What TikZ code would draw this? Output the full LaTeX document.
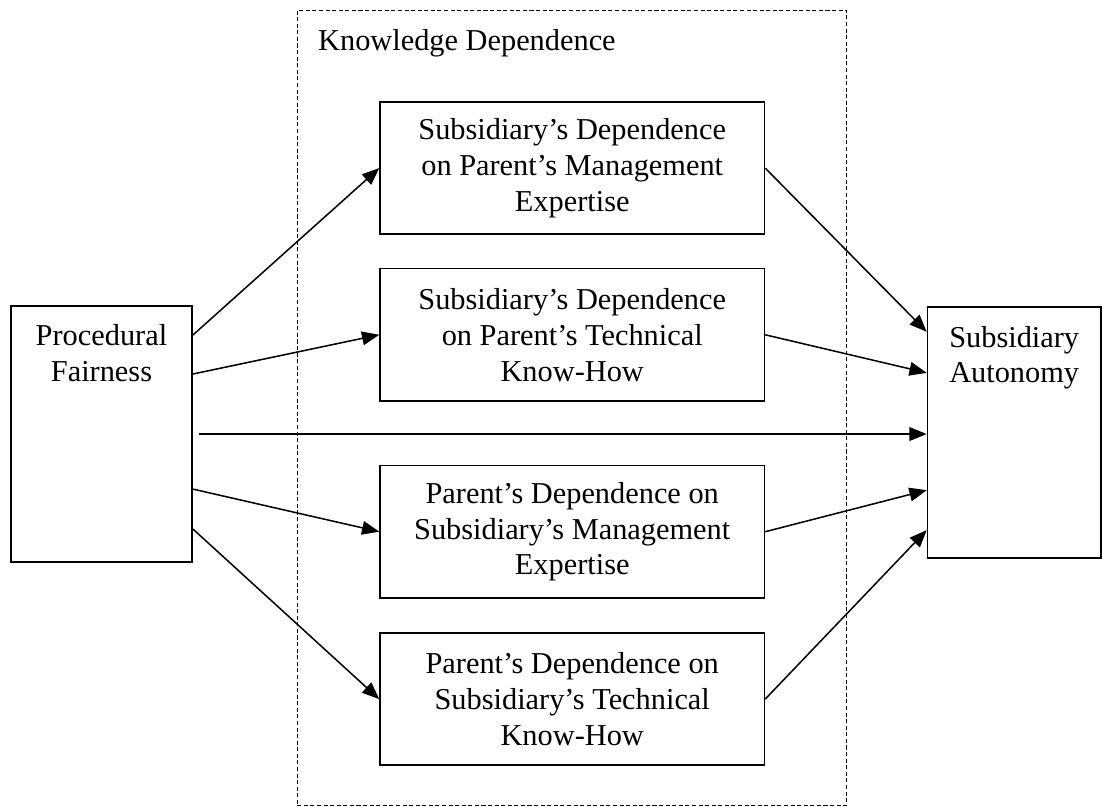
\documentclass[tikz,border=0pt]{standalone}
\usepackage{fontspec}
\setmainfont{Liberation Serif}
\usetikzlibrary{arrows.meta, positioning}

\begin{document}
\begin{tikzpicture}[
    every node/.style={font=\fontsize{12pt}{14.2pt}\selectfont},
    box/.style={draw, line width=0.6pt, rectangle, align=center, minimum width=5.34cm, minimum height=1.835cm, inner sep=0pt},
    side/.style={draw, line width=0.6pt, rectangle},
    group/.style={draw, line width=0.4pt, dash pattern=on 1.6pt off 1pt, rectangle, minimum width=7.63cm, minimum height=11.05cm},
    link/.style={draw, line width=0.6pt, -{Triangle[length=0.24cm, width=0.19cm]}}
]
\useasboundingbox (0,0) rectangle (15.31,-11.21);

% Wissensabhaengigkeit
\node[group] (kd) at (7.945,-5.665) {};
\node[anchor=west, inner sep=0pt] (kdtitle) at ([xshift=0.29cm, yshift=-0.47cm]kd.north west) {Knowledge Dependence};

\node[box] (spm) at (7.95,-2.335) {Subsidiary’s Dependence\\on Parent’s Management\\Expertise};
\node[box, below=0.46cm of spm] (spt) {Subsidiary’s Dependence\\on Parent’s Technical\\Know-How};
\node[box, below=0.88cm of spt] (psm) {Parent’s Dependence on\\Subsidiary’s Management\\Expertise};
\node[box, below=0.47cm of psm] (pst) {Parent’s Dependence on\\Subsidiary’s Technical\\Know-How};

% Aussenkaesten
\node[side, minimum width=2.52cm, minimum height=3.56cm,
      label={[anchor=north, align=center, yshift=-0.15cm]north:Procedural\\Fairness}] (pf) at (1.41,-6.03) {};
\node[side, minimum width=2.41cm, minimum height=3.49cm,
      label={[anchor=north, align=center, yshift=-0.15cm]north:Subsidiary\\Autonomy}] (sa) at (14.09,-6.01) {};

% Pfeile
\draw[link] ([yshift=1.376cm]pf.east) -- (spm.west);
\draw[link] ([yshift=0.834cm]pf.east) -- (spt.west);
\draw[link] ([xshift=0.08cm]pf.east) -- (pf.east -| sa.west);
\draw[link] ([yshift=-0.765cm]pf.east) -- (psm.west);
\draw[link] ([yshift=-1.32cm]pf.east) -- (pst.west);

\draw[link] (spm.east) -- ([yshift=1.40cm]sa.west);
\draw[link] (spt.east) -- ([yshift=0.83cm]sa.west);
\draw[link] (psm.east) -- ([yshift=-0.80cm]sa.west);
\draw[link] (pst.east) -- ([yshift=-1.355cm]sa.west);

\end{tikzpicture}
\end{document}
